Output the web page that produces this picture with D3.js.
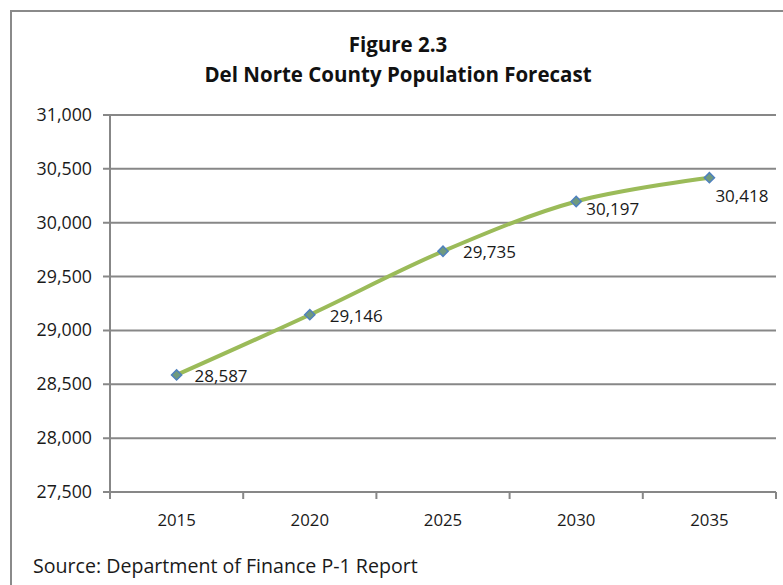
<!DOCTYPE html>
<html><head><meta charset="utf-8">
<script src="https://cdn.jsdelivr.net/npm/d3@7"></script>
<style>body{margin:0;background:#fff;}svg{display:block;font-family:"Open Sans",Lato,sans-serif;}</style>
</head><body>
<svg id="c" width="783" height="585"></svg>
<script>
const years = ["2015","2020","2025","2030","2035"];
const population = [28587, 29146, 29735, 30197, 30418];
const yTicks = [27500, 28000, 28500, 29000, 29500, 30000, 30500, 31000];
const titleLines = ["Figure 2.3", "Del Norte County Population Forecast"];
const sourceText = "Source: Department of Finance P-1 Report";

const svg = d3.select("#c");
const grid = "#878787";
svg.append("rect").attr("x",11).attr("y",11).attr("width",800).attr("height",600)
  .attr("fill","none").attr("stroke","#8a8a8a").attr("stroke-width",2);

const x = d3.scaleBand().domain(years).range([110,776]);
const y = d3.scaleLinear().domain([27500,31000]).range([492,115]);

svg.append("g").selectAll("line").data(yTicks).join("line")
  .attr("x1",103).attr("x2",776).attr("y1",d=>y(d)).attr("y2",d=>y(d))
  .attr("stroke",grid).attr("stroke-width",2);
svg.append("line").attr("x1",110).attr("x2",110).attr("y1",y(31000)).attr("y2",y(27500)+7)
  .attr("stroke",grid).attr("stroke-width",2);
const xb = years.map(d=>x(d)).concat([776]);
svg.append("g").selectAll("line").data(xb).join("line")
  .attr("x1",d=>d).attr("x2",d=>d).attr("y1",y(27500)).attr("y2",y(27500)+7)
  .attr("stroke",grid).attr("stroke-width",2);

const fmt = d3.format(",");
svg.append("g").selectAll("text").data(yTicks).join("text")
  .attr("x",92).attr("y",d=>y(d)+6).attr("text-anchor","end")
  .attr("font-size",17.8).attr("fill","#1a1a1a").text(d=>fmt(d));
svg.append("g").selectAll("text").data(years).join("text")
  .attr("x",d=>x(d)+x.bandwidth()/2).attr("y",526).attr("text-anchor","middle")
  .attr("font-size",16.8).attr("fill","#1a1a1a").text(d=>d);

svg.append("g").selectAll("text").data(titleLines).join("text")
  .attr("x",398).attr("y",(d,i)=>52+i*30).attr("text-anchor","middle")
  .attr("font-size",20.5).attr("font-weight","bold").attr("fill","#111").text(d=>d);

const pts = years.map((d,i)=>[x(d)+x.bandwidth()/2, y(population[i])]);
svg.append("path").attr("d", d3.line().curve(d3.curveCatmullRom.alpha(0.5))(pts))
  .attr("fill","none").attr("stroke","#9bbb59").attr("stroke-width",4);
svg.append("g").selectAll("path").data(pts).join("path")
  .attr("transform",d=>`translate(${d[0]},${d[1]}) rotate(45)`)
  .attr("d","M-3.6,-3.6H3.6V3.6H-3.6Z")
  .attr("fill","#6f9a7e").attr("stroke","#4f81bd").attr("stroke-width",1.5);
// label placement offsets (as in the original layout)
const ldx = [18, 20, 20, 10, 6], ldy = [1, 1, 1, 8, 18];
svg.append("g").selectAll("text").data(population).join("text")
  .attr("x",(d,i)=>pts[i][0]+ldx[i]).attr("y",(d,i)=>pts[i][1]+ldy[i]+6)
  .attr("font-size",17).attr("fill","#1a1a1a").text(d=>fmt(d));

svg.append("text").attr("x",33).attr("y",573).attr("font-size",19.6).attr("fill","#1a1a1a").text(sourceText);
</script>
</body></html>
